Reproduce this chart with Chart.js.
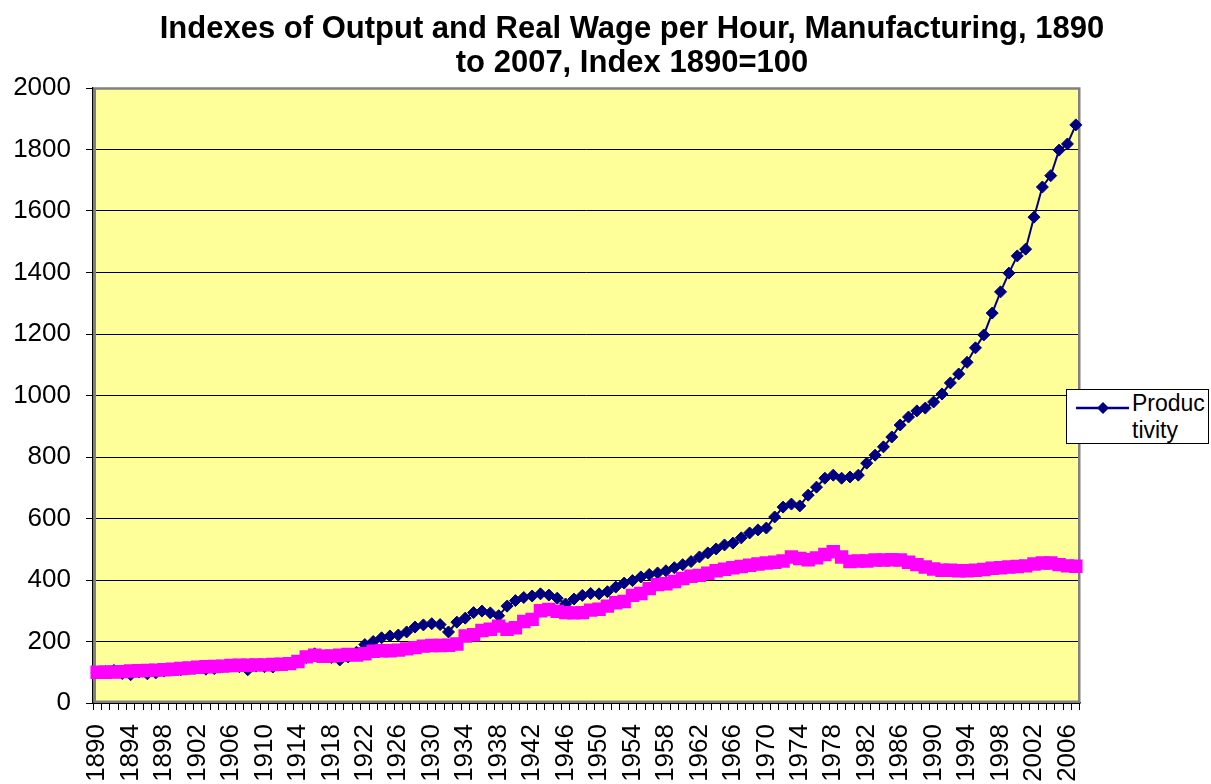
<!DOCTYPE html>
<html>
<head>
<meta charset="utf-8">
<script src="https://cdn.jsdelivr.net/npm/chart.js@4.4.1/dist/chart.umd.min.js"></script>
<style>
  html, body { margin: 0; padding: 0; background: #fff; overflow: hidden; }
  #wrap { position: relative; width: 1211px; height: 784px; }
  #title { position: absolute; left: 0; top: 11px; width: 1264px; text-align: center;
           font: bold 31px "Liberation Sans", Arial, sans-serif; line-height: 34px; color: #000; }
  #legend { position: absolute; left: 1066px; top: 389px; width: 141px; height: 53px;
            border: 1.5px solid #000; background: #fff; }
  #legend svg { position: absolute; left: 7px; top: 5px; }
  #legend .txt { position: absolute; left: 65px; top: 0; width: 76px;
                 font: 23px "Liberation Sans", Arial, sans-serif; line-height: 27px; color: #000; }
</style>
</head>
<body>
<div id="wrap">
  <canvas id="c" width="1211" height="784"></canvas>
  <div id="title">Indexes of Output and Real Wage per Hour, Manufacturing, 1890<br>to 2007, Index 1890=100</div>
  <div id="legend">
    <svg width="56" height="24" viewBox="0 0 56 24">
      <line x1="2" y1="13" x2="55" y2="13" stroke="#000080" stroke-width="2.5"/>
      <polygon points="29,7 35,13 29,19 23,13" fill="#000080"/>
    </svg>
    <div class="txt">Produc<wbr>tivity</div>
  </div>
</div>
<script>
const years = [];
for (let y = 1890; y <= 2007; y++) years.push(String(y));

const productivity = [
  100, 103, 106, 96, 92, 101, 95, 98, 104, 107,
  108, 112, 114, 110, 112, 118, 120, 118, 108, 120,
  118, 117, 125, 130, 133, 148, 160, 150, 148, 140,
  150, 165, 190, 200, 212, 218, 221, 231, 247, 254,
  258, 255, 231, 263, 276, 294, 299, 293, 284, 315,
  333, 343, 348, 355, 351, 341, 322, 338, 350, 356,
  355, 362, 377, 390, 398, 410, 418, 423, 430, 440,
  450, 460, 475, 488, 501, 514, 520, 537, 553, 563,
  569, 605, 637, 647, 641, 676, 702, 731, 741, 731,
  735, 741, 780, 806, 833, 865, 904, 930, 950, 959,
  979, 1005, 1041, 1070, 1108, 1155, 1197, 1268, 1337, 1398,
  1454, 1476, 1580, 1678, 1715, 1798, 1818, 1880
];

const realWage = [
  100, 100, 101, 102, 104, 105, 106, 107, 108, 110,
  112, 114, 116, 118, 119, 120, 122, 123, 123, 124,
  124, 125, 126, 128, 135, 150, 155, 152, 153, 155,
  158, 156, 160, 168, 170, 170, 172, 176, 180, 185,
  187, 187, 188, 192, 218, 222, 236, 240, 250, 240,
  245, 265, 272, 300, 304, 298, 294, 293, 294, 302,
  305, 315, 326, 330, 350, 356, 372, 385, 388, 395,
  405, 412, 415, 422, 430, 435, 440, 444, 448, 452,
  455, 458, 462, 475, 470, 466, 472, 483, 492, 475,
  460, 462, 462, 465, 465, 466, 465, 458, 450, 442,
  436, 432, 432, 430, 430, 432, 434, 438, 440, 442,
  444, 446, 452, 455, 455, 450, 446, 445
];

const yTicks = [0, 200, 400, 600, 800, 1000, 1200, 1400, 1600, 1800, 2000];

const FONT = '"Liberation Sans", Arial, sans-serif';

const plotBg = {
  id: 'plotBg',
  beforeDraw(chart) {
    const {ctx, chartArea: a} = chart;
    ctx.save();
    ctx.fillStyle = '#FFFF99';
    ctx.fillRect(a.left, a.top, a.right - a.left, a.bottom - a.top);
    ctx.restore();
  },
  beforeDatasetsDraw(chart) {
    const {ctx, chartArea: a} = chart;
    ctx.save();
    ctx.strokeStyle = '#808080';
    ctx.lineWidth = 2.5;
    ctx.strokeRect(a.left + 1.75, a.top + 0.5, a.right - a.left - 2.5, a.bottom - a.top - 1.75);
    ctx.restore();
  }
};

new Chart(document.getElementById('c'), {
  type: 'line',
  data: {
    labels: years,
    datasets: [
      {
        label: 'Real Wage',
        data: realWage,
        order: 0,
        borderColor: '#FF00FF',
        backgroundColor: '#FF00FF',
        borderWidth: 2,
        pointStyle: 'rect',
        pointRadius: 9.5,
        pointBorderWidth: 0,
        pointBackgroundColor: '#FF00FF',
        pointBorderColor: '#FF00FF',
        tension: 0
      },
      {
        label: 'Productivity',
        data: productivity,
        order: 1,
        borderColor: '#000080',
        backgroundColor: '#000080',
        borderWidth: 2,
        pointStyle: 'rectRot',
        pointRadius: 6,
        pointBorderWidth: 1,
        pointBackgroundColor: '#000080',
        pointBorderColor: '#000080',
        tension: 0
      }
    ]
  },
  options: {
    responsive: false,
    animation: false,
    events: [],
    layout: { padding: { top: 88, right: 131, left: 0, bottom: 0 } },
    plugins: {
      legend: { display: false },
      title: { display: false },
      tooltip: { enabled: false }
    },
    scales: {
      x: {
        type: 'category',
        offset: true,
        grid: { display: true, drawOnChartArea: false, offset: true, color: '#000', lineWidth: 1, tickLength: 7 },
        border: { display: true, color: '#000', width: 1.5 },
        ticks: {
          autoSkip: false,
          minRotation: 90,
          maxRotation: 90,
          padding: 14,
          color: '#000',
          font: { family: FONT, size: 26 },
          callback: function(val, idx) { return idx % 4 === 0 ? years[idx] : ''; }
        },
        afterFit(scale) { scale.height = 81; }
      },
      y: {
        min: 0,
        max: 2000,
        afterBuildTicks(scale) { scale.ticks = yTicks.map(v => ({ value: v })); },
        grid: { color: '#000', lineWidth: 1, tickLength: 7 },
        border: { display: true, color: '#000', width: 1.5 },
        ticks: {
          padding: 15,
          color: '#000',
          font: { family: FONT, size: 26 },
          callback: function(value) { return String(value); }
        },
        afterFit(scale) { scale.width = 93; }
      }
    }
  },
  plugins: [plotBg]
});
</script>
</body>
</html>
